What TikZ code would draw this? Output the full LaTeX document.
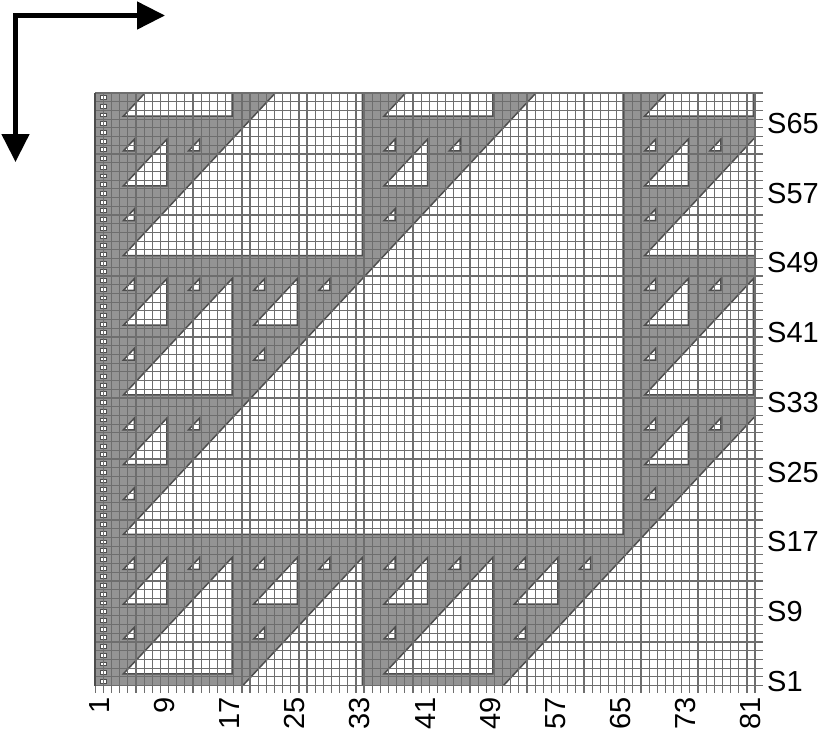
\documentclass[tikz,border=0pt]{standalone}
\usepackage{fontspec}
\setmainfont{Liberation Sans}
\usetikzlibrary{arrows.meta}
\newcount\ka \newcount\na \newcount\tmpc
\newif\ifsubset
% \checksub{k}{n}: true when the bits of k are a subset of the bits of n (C(n,k) odd)
\def\checksub#1#2{%
  \ka=#1\relax \na=#2\relax \subsettrue
  \loop\ifnum\ka>0
    \tmpc=\ka \divide\tmpc by 2 \multiply\tmpc by 2
    \ifnum\tmpc<\ka
      \tmpc=\na \divide\tmpc by 2 \multiply\tmpc by 2
      \ifnum\tmpc=\na \subsetfalse\fi
    \fi
    \divide\ka by 2 \divide\na by 2
  \repeat}
\definecolor{cellgray}{RGB}{148,148,148}
\definecolor{gridline}{RGB}{110,110,110}
\definecolor{holeedge}{RGB}{78,78,78}
% shrinking of the white holes (in cells): diagonal, bottom, right
\def\ed{0.1}\def\eb{0.35}\def\er{1.2}
% hole of size s whose first white cell is (k=B+1, n=A)
\newcommand\holetri[3]{%
  \filldraw[holefill] ({#1+1+\ed+\eb},{#2+\eb}) -- ({#1+#3-\er},{#2+\eb})
    -- ({#1+#3-\er},{#2+#3-1-\ed-\er}) -- cycle;}
\begin{document}
\begin{tikzpicture}[x=1pt,y=-1pt,
  gridrule/.style={gridline,line width=1.2pt},
  holefill/.style={fill=white,draw=holeedge,line width=1.5pt,line join=miter},
  rowlabel/.style={anchor=west,inner sep=0pt,font=\fontsize{29}{34}\selectfont},
  collabel/.style={rotate=90,anchor=east,inner sep=0pt,font=\fontsize{29}{34}\selectfont},
  bigarrow/.style={line width=4.8pt,{Triangle[length=28pt,width=27pt]}-{Triangle[length=28pt,width=27pt]}}]
\useasboundingbox (0,0) rectangle (830,740);
\def\gx{95.3}\def\cw{8.145}\def\gb{685.6}\def\rh{8.715}
% pattern, in cell coordinates: kx = column - 3, ny = row + 46
\begin{scope}[shift={(111.59pt,-1095.2pt)},x=8.145pt,y=8.715pt]
  \clip (-2,47) rectangle (79,115);
  \fill[cellgray] (-2,47) rectangle (79,115);
  \foreach \s in {4,8,16,32,64}{%
    \pgfmathtruncatemacro\ss{2*\s}%
    \pgfmathtruncatemacro\amax{114/\ss}%
    \foreach \ai in {0,...,\amax}{%
      \pgfmathtruncatemacro\A{\ai*\ss+\s}%
      \ifnum\numexpr\A+\s-2\relax<47 \else\ifnum\A>114 \else
        \foreach \bi in {0,...,\ai}{%
          \pgfmathtruncatemacro\B{\bi*\ss}%
          \ifnum\B>78 \else
            \checksub{\bi}{\ai}%
            \ifsubset\holetri{\B}{\A}{\s}\fi
          \fi}%
      \fi\fi}}
  % region beyond the main diagonal
  \filldraw[holefill] ({46+1+\ed},46) -- (83,46) -- (83,{83-1-\ed}) -- cycle;
  % left strip marks
  \foreach \n in {47,...,114}{%
    \filldraw[fill=white,draw=holeedge,line width=0.6pt] (-1.35,{\n+0.28}) rectangle (-0.65,{\n+0.72});
  }
\end{scope}
% grid
\foreach \c in {0,...,81}{%
  \draw[gridrule] ({\gx+\c*\cw},93) -- ({\gx+\c*\cw},693);
}
\foreach \r in {0,...,68}{%
  \draw[gridrule] (\gx,{\gb-\r*\rh}) -- (763,{\gb-\r*\rh});
}
\draw[line width=1.8pt,black!70] (\gx,93) -- (\gx,\gb);
% labels
\foreach \s in {1,9,...,65}{%
  \node[rowlabel] (S\s) at (767,{\gb-(\s-0.5)*\rh}) {S\s};
}
\foreach \c in {1,9,...,81}{%
  \node[collabel] (C\c) at ({\gx+(\c-0.5)*\cw},697) {\c};
}
% arrows
\coordinate (corner) at (15.5,15.5);
\coordinate (xend) at (165,15.5);
\coordinate (yend) at (15.5,162);
\draw[bigarrow] (xend) -- (corner) -- (yend);
\end{tikzpicture}
\end{document}
